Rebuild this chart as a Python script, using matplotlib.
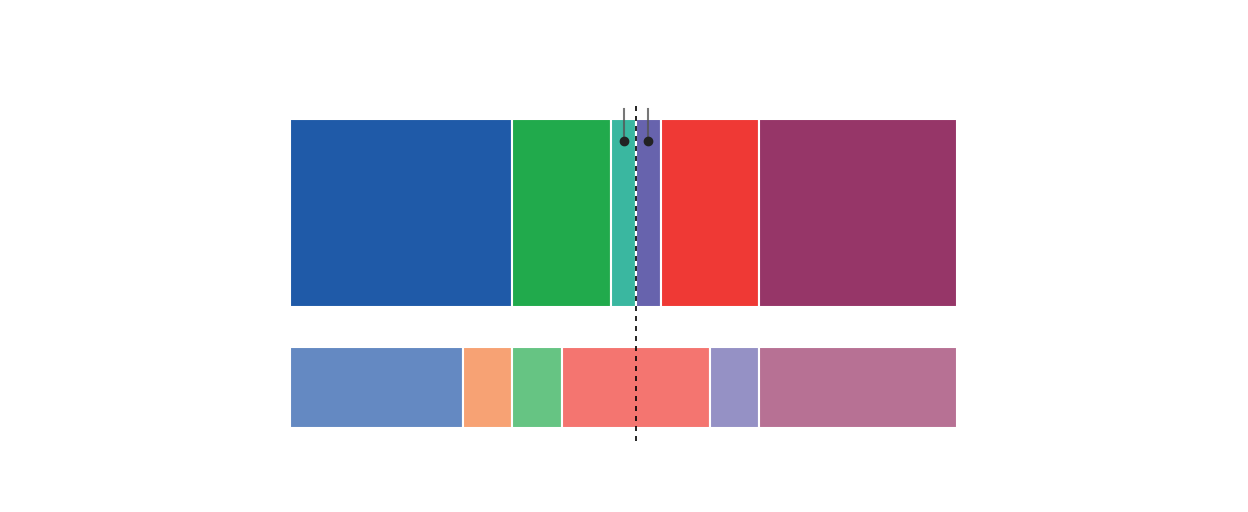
import matplotlib.pyplot as plt

# seat counts, top (inner) and bottom (outer) rows
top_seats = [9, 4, 1, 1, 4, 8]
top_colors = ['#1f5aa8', '#21aa4c', '#3ab7a0', '#6763ad', '#ef3935', '#963668']
bottom_seats = [7, 2, 2, 6, 2, 8]
bottom_colors = ['#6489c2', '#f7a274', '#66c483', '#f47570', '#9591c5', '#b77194']
majority = 14
marked = [2, 3]  # indexes of top segments that carry a marker

fig = plt.figure(figsize=(12.48, 5.12), dpi=100)
total = sum(top_seats)
ax = fig.add_axes([290 / 1248, 0, 667 / 1248, 1])
ax.set_xlim(0, total)
ax.set_ylim(512, 0)
ax.axis('off')

def stack(seats, colors, yc, h):
    left = 0
    centers = []
    for s, c in zip(seats, colors):
        ax.barh(yc, s, left=left, height=h, color=c, edgecolor='white', linewidth=1.5)
        centers.append(left + s / 2)
        left += s
    return centers

top_centers = stack(top_seats, top_colors, 213, 188)
stack(bottom_seats, bottom_colors, 387.5, 81)

for i in marked:
    x = top_centers[i]
    ax.plot([x, x], [109, 141], color='#555555', alpha=0.8, linewidth=1.5, clip_on=False)
    ax.plot(x, 141, 'o', color='#222222', markersize=6, clip_on=False)

ax.plot([majority, majority], [106, 445], color='black', linestyle=(0, (3, 3)),
        linewidth=1.2, clip_on=False)

fig.savefig('out.png', dpi=100)
